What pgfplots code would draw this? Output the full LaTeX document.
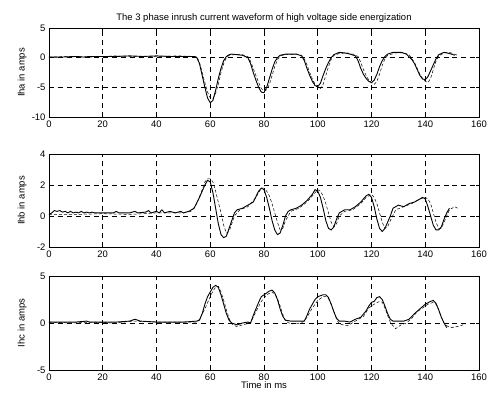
\documentclass[border=0pt]{standalone}
\usepackage{fontspec}
\setmainfont{Liberation Sans}
\usepackage{pgfplots}
\pgfplotsset{compat=1.18}
\begin{document}
\begin{tikzpicture}
\useasboundingbox (0bp,0bp) rectangle (487bp,399bp);
\pgfplotsset{
  every axis/.append style={
    scale only axis, width=430bp, anchor=south west,
    xmin=0, xmax=160, xtick={0,20,...,160},
    tick align=inside, major tick length=3bp,
    xmajorgrids, ymajorgrids,
    grid style={black, line width=0.6pt, dash pattern=on 5pt off 4pt},
    axis line style={line width=0.7pt},
    tick style={black, line width=0.6pt},
    font=\fontsize{9.5}{11}\selectfont,
    /pgf/number format/assume math mode=true,
    ylabel style={at={(axis description cs:0,0.5)}, anchor=south, yshift=19bp},
    clip=true,
  },
  sol/.style={black, line width=0.9pt, no marks},
  das/.style={black, line width=0.5pt, no marks, dash pattern=on 3pt off 2pt},
}
% ---------- top ----------
\begin{axis}[at={(49bp,282bp)}, height=89bp, ymin=-10, ymax=5, ytick={-10,-5,0,5},
  ylabel={Iha in amps},
  title={The 3 phase inrush current waveform of high voltage side energization},
  title style={yshift=-4bp}]
\addplot[sol] coordinates {(0,0.1)(5,0.1)(10,0.2)(13,0.1)(15,0.2)(20,0.2)(25,0.2)(30,0.3)(35,0.2)(40,0.3)(45,0.2)(50,0.2)(54,0.2)
(55,0)(56,-1)(57,-3)(58,-5)(59,-6.8)(60,-7.6)(61,-7.2)(62,-5.5)(63,-3.5)(64,-1.8)(65,-0.5)(66,0.2)(67,0.5)(68,0.6)(70,0.5)(72,0.4)
(74,0)(75,-1)(76,-2.5)(77,-3.8)(78,-5)(79,-5.8)(80,-5.9)(81,-5)(82,-3.5)(83,-2)(84,-0.7)(85,0)(86,0.4)(88,0.6)(92,0.6)
(94,0.3)(95,-0.5)(96,-1.8)(97,-3)(98,-4)(99,-4.7)(100,-4.9)(101,-4.3)(102,-3)(103,-1.8)(104,-0.8)(105,0)(106,0.5)(108,0.9)(110,0.8)(112,0.6)
(114,0.3)(115,-0.5)(116,-1.8)(117,-2.8)(118,-3.5)(119,-4)(120,-4.2)(121,-3.8)(122,-2.8)(123,-1.5)(124,-0.5)(125,0.2)(126,0.6)(128,0.9)(131,0.9)(133,0.6)
(135,-0.3)(136,-1)(137,-2)(138,-3)(139,-3.6)(140,-3.7)(141,-3.2)(142,-2.2)(143,-1.2)(144,-0.2)(145,0.5)(147,0.9)(149,0.7)(151,0.4)};
\addplot[das] coordinates {(0,0.1)(8,0.2)(16,0.1)(24,0.3)(32,0.2)(40,0.2)(48,0.3)(55,0.2)
(56,-0.8)(57,-2.5)(58,-4.2)(59,-5.8)(60,-6.8)(61,-6.9)(62,-6)(63,-4.5)(64,-2.5)(65,-1)(66,0)(67,0.4)(69,0.5)(72,0.5)(74,0.2)
(75,-0.6)(76,-1.8)(77,-3)(78,-4.2)(79,-5.2)(80,-5.6)(81,-5.4)(82,-4.5)(83,-3)(84,-1.5)(85,-0.4)(86,0.3)(88,0.5)(92,0.6)(94,0.4)
(95,-0.2)(96,-1.2)(97,-2.5)(98,-3.6)(99,-4.5)(100,-5)(101,-5.2)(102,-4.5)(103,-3)(104,-1.5)(105,-0.3)(106,0.4)(108,0.7)(111,0.8)(113,0.6)(115,0.2)
(116,-0.8)(117,-2)(118,-3)(119,-3.8)(120,-4.2)(121,-4.5)(122,-4)(123,-2.8)(124,-1.3)(125,-0.2)(126,0.4)(129,0.8)(132,0.8)(134,0.5)
(135,-0.2)(136,-0.8)(137,-1.8)(138,-2.8)(139,-3.5)(140,-4)(141,-4.2)(142,-3.5)(143,-2)(144,-0.6)(145,0.3)(147,0.8)(149,0.9)(152,0.4)};
\end{axis}
% ---------- middle ----------
\begin{axis}[at={(49bp,152bp)}, height=93bp, ymin=-2, ymax=4, ytick={-2,0,2,4},
  ylabel={Ihb in amps}]
\addplot[sol] coordinates {(0,0.1)(1,0.2)(2,0.35)(3,0.3)(4,0.35)(5,0.25)(6,0.3)(7,0.2)(8,0.3)(9,0.2)(10,0.25)(11,0.2)(12,0.3)(13,0.2)(14,0.25)(15,0.2)(16,0.25)(17,0.2)(20,0.2)(24,0.2)(25,0.3)(26,0.2)(30,0.2)(32,0.3)(33,0.2)(36,0.25)(37,0.35)(38,0.2)(40,0.3)(41,0.2)(42,0.4)(43,0.2)(45,0.3)(47,0.2)(49,0.3)(50,0.2)(52,0.3)
(54,0.5)(56,1.2)(58,2.0)(59,2.3)(60,2.2)(61,1.5)(62,0.5)(63,-0.5)(64,-1.2)(65,-1.4)(66,-1.3)(67,-0.8)(68,-0.3)(69,0.2)(70,0.4)(72,0.5)(74,0.7)(76,0.9)(78,1.6)(79,1.8)(80,1.7)
(81,1.2)(82,0.5)(83,-0.3)(84,-0.9)(85,-1.2)(86,-1.1)(87,-0.6)(88,0)(89,0.3)(90,0.4)(92,0.5)(94,0.7)(96,1.0)(98,1.4)(99,1.7)(100,1.6)
(101,1.2)(102,0.5)(103,-0.3)(104,-0.8)(105,-0.9)(106,-0.7)(107,-0.2)(108,0.2)(110,0.4)(112,0.4)(114,0.6)(116,0.9)(118,1.3)(119,1.4)(120,1.2)
(121,0.6)(122,-0.2)(123,-0.8)(124,-1.0)(125,-0.8)(126,-0.4)(127,0)(128,0.5)(130,0.7)(132,0.6)(134,0.8)(136,0.9)(138,1.1)(139,1.2)(140,1.1)
(141,0.6)(142,0)(143,-0.6)(144,-0.9)(145,-0.9)(146,-0.7)(147,-0.2)(148,0.2)(149,0.5)};
\addplot[das] coordinates {(0,0.1)(10,0.1)(20,0.15)(30,0.1)(40,0.2)(50,0.2)(53,0.3)(55,0.8)(57,1.7)(58,2.2)(59,2.4)(60,2.4)(61,2.2)(62,1.6)(63,0.9)(64,0.2)(65,-0.6)(66,-1.1)(67,-1.0)(68,-0.5)(69,0)(71,0.4)(74,0.6)(77,1.2)(79,1.8)(80,1.8)(81,1.6)(82,1.3)(83,0.8)(84,0.2)(85,-0.4)(86,-0.9)(87,-0.8)(88,-0.3)(90,0.3)(93,0.5)(96,0.9)(98,1.3)(100,1.7)(101,1.6)(102,1.3)(103,0.8)(104,0.2)(105,-0.4)(106,-0.7)(107,-0.5)(108,0)(110,0.3)(113,0.4)(116,0.8)(118,1.2)(120,1.4)(121,1.2)(122,0.8)(123,0.2)(124,-0.4)(125,-0.8)(126,-0.7)(127,-0.3)(129,0.4)(132,0.6)(135,0.8)(138,1.1)(140,1.2)(141,1.1)(142,0.8)(143,0.2)(144,-0.4)(145,-0.8)(146,-0.8)(147,-0.4)(148,0)(149,0.4)(151,0.6)(152,0.5)};
\end{axis}
% ---------- bottom ----------
\begin{axis}[at={(49bp,29bp)}, height=94bp, ymin=-5, ymax=5, ytick={-5,0,5},
  ylabel={Ihc in amps}, xlabel={Time in ms}, xlabel style={yshift=5bp}]
\addplot[sol] coordinates {(0,0.1)(5,0.1)(10,0.1)(14,0.2)(15,0.1)(20,0.1)(25,0.1)(30,0.2)(32,0.4)(34,0.2)(40,0.1)(45,0.1)(50,0.1)(55,0.2)
(56,0.3)(57,1)(58,2)(59,2.8)(60,3.3)(61,3.8)(62,4.0)(63,3.8)(64,3.0)(65,2.0)(66,1.0)(67,0.3)(68,0)(70,-0.2)(72,0)(74,0.1)(75,0)
(76,0.8)(77,1.5)(78,2.2)(79,2.8)(80,3.0)(82,3.4)(83,3.5)(84,3.2)(85,2.5)(86,1.5)(87,0.7)(88,0.3)(90,0.2)(95,0.2)
(96,0.8)(97,1.5)(98,2.0)(99,2.5)(100,2.8)(102,3.0)(103,3.0)(104,2.7)(105,2.0)(106,1.2)(107,0.5)(108,0.2)(110,0.2)(112,0.1)(114,0.4)(116,0.6)
(118,1.3)(119,1.8)(120,2.2)(121,2.3)(122,2.7)(123,2.8)(124,2.5)(125,1.8)(126,1.0)(127,0.4)(128,0.2)(132,0.2)(134,0.4)
(136,1.0)(138,1.5)(140,2.0)(142,2.3)(143,2.4)(144,2.1)(145,1.4)(146,0.6)(147,0)(148,-0.5)};
\addplot[das] coordinates {(0,0.1)(8,0)(16,0.1)(24,0)(32,0.2)(40,0.1)(48,0.1)(55,0.1)(56,0.4)(58,1.5)(60,2.8)(61,3.4)(62,3.8)(63,3.9)(64,3.3)(65,2.4)(66,1.4)(67,0.5)(68,-0.1)(70,-0.4)(72,-0.2)(75,0)(77,1.2)(79,2.3)(81,3.0)(83,3.3)(84,3.1)(85,2.6)(86,1.8)(87,0.9)(88,0.2)(90,-0.1)(94,0)(96,0.6)(98,1.6)(100,2.4)(102,2.8)(103,2.8)(104,2.6)(105,2.0)(106,1.2)(107,0.4)(108,-0.1)(111,-0.3)(114,0.2)(117,0.7)(119,1.6)(121,2.0)(123,2.3)(124,2.2)(125,1.6)(126,0.8)(127,0.1)(128,-0.3)(129,-0.6)(131,-0.2)(133,0)(135,0.5)(137,1.2)(139,1.6)(141,2.0)(143,2.2)(144,2.0)(145,1.4)(146,0.6)(147,0)(148,-0.3)(150,-0.5)(153,-0.3)(155,-0.1)};
\end{axis}
\end{tikzpicture}
\end{document}
